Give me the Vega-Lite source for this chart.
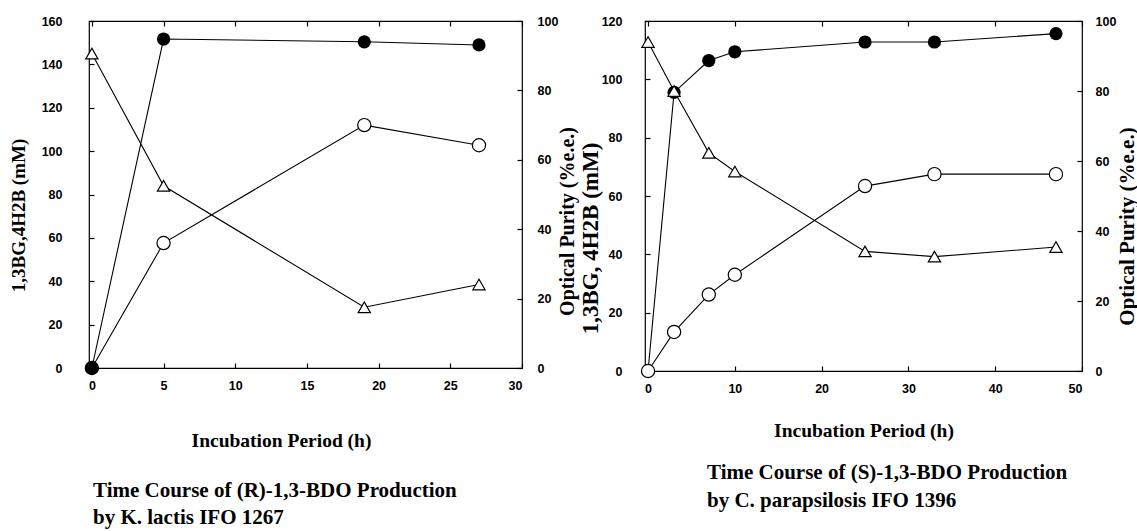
{
  "$schema": "https://vega.github.io/schema/vega-lite/v6.json",
  "padding": {"left": 8, "top": 11, "right": 0, "bottom": 0},
  "background": "white",
  "spacing": 0,
  "datasets": {
    "k_mM": [
      {"t": 0, "conc": 145, "series": "1,3BG"},
      {"t": 5, "conc": 84, "series": "1,3BG"},
      {"t": 19, "conc": 28, "series": "1,3BG"},
      {"t": 27, "conc": 38.5, "series": "1,3BG"},
      {"t": 0, "conc": 0, "series": "4H2B"},
      {"t": 5, "conc": 57.6, "series": "4H2B"},
      {"t": 19, "conc": 112, "series": "4H2B"},
      {"t": 27, "conc": 102.7, "series": "4H2B"}
    ],
    "k_ee": [
      {"t": 0, "ee": 0},
      {"t": 5, "ee": 94.8},
      {"t": 19, "ee": 94.0},
      {"t": 27, "ee": 93.1}
    ],
    "c_mM": [
      {"t": 0, "conc": 112.8, "series": "1,3BG"},
      {"t": 3, "conc": 96, "series": "1,3BG"},
      {"t": 7, "conc": 74.8, "series": "1,3BG"},
      {"t": 10, "conc": 68.4, "series": "1,3BG"},
      {"t": 25, "conc": 41, "series": "1,3BG"},
      {"t": 33, "conc": 39.2, "series": "1,3BG"},
      {"t": 47, "conc": 42.5, "series": "1,3BG"},
      {"t": 0, "conc": 0, "series": "4H2B"},
      {"t": 3, "conc": 13.4, "series": "4H2B"},
      {"t": 7, "conc": 26.2, "series": "4H2B"},
      {"t": 10, "conc": 33, "series": "4H2B"},
      {"t": 25, "conc": 63.4, "series": "4H2B"},
      {"t": 33, "conc": 67.5, "series": "4H2B"},
      {"t": 47, "conc": 67.5, "series": "4H2B"}
    ],
    "c_ee": [
      {"t": 0, "ee": 0},
      {"t": 3, "ee": 79.6},
      {"t": 7, "ee": 88.7},
      {"t": 10, "ee": 91.2},
      {"t": 25, "ee": 94.0},
      {"t": 33, "ee": 94.0},
      {"t": 47, "ee": 96.4}
    ]
  },
  "config": {
    "view": {"stroke": "black", "strokeWidth": 1.2},
    "axis": {
      "grid": false,
      "domain": false,
      "tickColor": "black",
      "tickSize": -5,
      "tickWidth": 1.2,
      "labelFont": "Liberation Sans",
      "labelFontWeight": "bold",
      "labelFontSize": 12.5,
      "labelColor": "black",
      "titleFont": "Liberation Serif",
      "titleFontWeight": "bold",
      "titleFontSize": 18,
      "titleColor": "black"
    },
    "title": {"color": "black"}
  },
  "hconcat": [
    {
      "width": 433,
      "height": 347,
      "title": {
        "text": ["Time Course of (R)-1,3-BDO Production", " by K. lactis IFO 1267"],
        "orient": "bottom",
        "anchor": "start",
        "frame": "group",
        "dx": 4,
        "offset": 30,
        "font": "Liberation Serif",
        "fontSize": 21,
        "fontWeight": "bold",
        "lineHeight": 27
      },
      "layer": [
        {
          "data": {"name": "k_mM"},
          "encoding": {
            "x": {"field": "t", "type": "quantitative", "scale": {"domain": [-0.2, 30], "nice": false},
              "axis": {"orient": "bottom", "values": [0, 5, 10, 15, 20, 25, 30], "title": "Incubation  Period (h)", "titleFontSize": 19.5, "labelPadding": 16, "titlePadding": 40, "titleX": 192}},
            "y": {"field": "conc", "type": "quantitative", "scale": {"domain": [0, 160], "nice": false},
              "axis": {"orient": "left", "values": [0, 20, 40, 60, 80, 100, 120, 140, 160], "title": "1,3BG,4H2B (mM)", "titleFontSize": 19, "titleAngle": 270, "titleBaseline": "middle", "titleX": -71, "titleY": 194, "labelPadding": 32}},
            "detail": {"field": "series", "type": "nominal"}
          },
          "layer": [
            {"mark": {"type": "line", "color": "black", "strokeWidth": 1.1}},
            {"mark": {"type": "point", "filled": true, "fill": "white", "stroke": "black", "strokeWidth": 1.2, "opacity": 1},
              "encoding": {
                "shape": {"field": "series", "type": "nominal", "scale": {"domain": ["1,3BG", "4H2B"], "range": ["triangle-up", "circle"]}, "legend": null},
                "size": {"field": "series", "type": "nominal", "scale": {"domain": ["1,3BG", "4H2B"], "range": [150, 175]}, "legend": null}
              }}
          ]
        },
        {
          "data": {"name": "k_ee"},
          "encoding": {
            "x": {"field": "t", "type": "quantitative", "scale": {"domain": [-0.2, 30], "nice": false},
              "axis": {"orient": "top", "values": [0, 5, 10, 15, 20, 25, 30], "labels": false, "title": " ", "titleFontSize": 8, "titlePadding": 0}},
            "y": {"field": "ee", "type": "quantitative", "scale": {"domain": [0, 100], "nice": false},
              "axis": {"orient": "right", "values": [0, 20, 40, 60, 80, 100], "title": "Optical Purity (%e.e.)", "titleAngle": 270, "titleBaseline": "middle", "titleFontSize": 20, "titleX": 45, "titleY": 200, "labelPadding": 20}}
          },
          "layer": [
            {"mark": {"type": "line", "color": "black", "strokeWidth": 1.1}},
            {"mark": {"type": "point", "shape": "circle", "filled": true, "color": "black", "size": 175, "opacity": 1}}
          ]
        }
      ],
      "resolve": {"scale": {"y": "independent"}, "axis": {"x": "independent"}}
    },
    {
      "width": 437,
      "height": 350,
      "title": {
        "text": ["Time Course of (S)-1,3-BDO Production", "by C. parapsilosis  IFO 1396"],
        "orient": "bottom",
        "anchor": "start",
        "frame": "group",
        "dx": 62,
        "offset": 22,
        "font": "Liberation Serif",
        "fontSize": 21,
        "fontWeight": "bold",
        "lineHeight": 28
      },
      "layer": [
        {
          "data": {"name": "c_ee"},
          "encoding": {
            "x": {"field": "t", "type": "quantitative", "scale": {"domain": [-0.35, 50], "nice": false},
              "axis": {"orient": "top", "values": [0, 10, 20, 30, 40, 50], "labels": false, "title": null}},
            "y": {"field": "ee", "type": "quantitative", "scale": {"domain": [0, 100], "nice": false},
              "axis": {"orient": "right", "values": [0, 20, 40, 60, 80, 100], "title": "Optical Purity (%e.e.)", "titleAngle": 270, "titleBaseline": "middle", "titleFontSize": 21, "titleX": 45, "titleY": 205, "labelPadding": 18}}
          },
          "layer": [
            {"mark": {"type": "line", "color": "black", "strokeWidth": 1.1}},
            {"mark": {"type": "point", "shape": "circle", "filled": true, "color": "black", "size": 175, "opacity": 1}}
          ]
        },
        {
          "data": {"name": "c_mM"},
          "encoding": {
            "x": {"field": "t", "type": "quantitative", "scale": {"domain": [-0.35, 50], "nice": false},
              "axis": {"orient": "bottom", "values": [0, 10, 20, 30, 40, 50], "title": "Incubation  Period (h)", "titleFontSize": 19.5, "labelPadding": 16, "titlePadding": 27}},
            "y": {"field": "conc", "type": "quantitative", "scale": {"domain": [0, 120], "nice": false},
              "axis": {"orient": "left", "values": [0, 20, 40, 60, 80, 100, 120], "title": "1,3BG, 4H2B (mM)", "titleFontSize": 23, "titleAngle": 270, "titleBaseline": "middle", "titleX": -55, "titleY": 217, "labelPadding": 28}},
            "detail": {"field": "series", "type": "nominal"}
          },
          "layer": [
            {"mark": {"type": "line", "color": "black", "strokeWidth": 1.1}},
            {"mark": {"type": "point", "filled": true, "fill": "white", "stroke": "black", "strokeWidth": 1.2, "opacity": 1},
              "encoding": {
                "shape": {"field": "series", "type": "nominal", "scale": {"domain": ["1,3BG", "4H2B"], "range": ["triangle-up", "circle"]}, "legend": null},
                "size": {"field": "series", "type": "nominal", "scale": {"domain": ["1,3BG", "4H2B"], "range": [150, 175]}, "legend": null}
              }}
          ]
        }
      ],
      "resolve": {"scale": {"y": "independent"}, "axis": {"x": "independent"}}
    }
  ]
}
